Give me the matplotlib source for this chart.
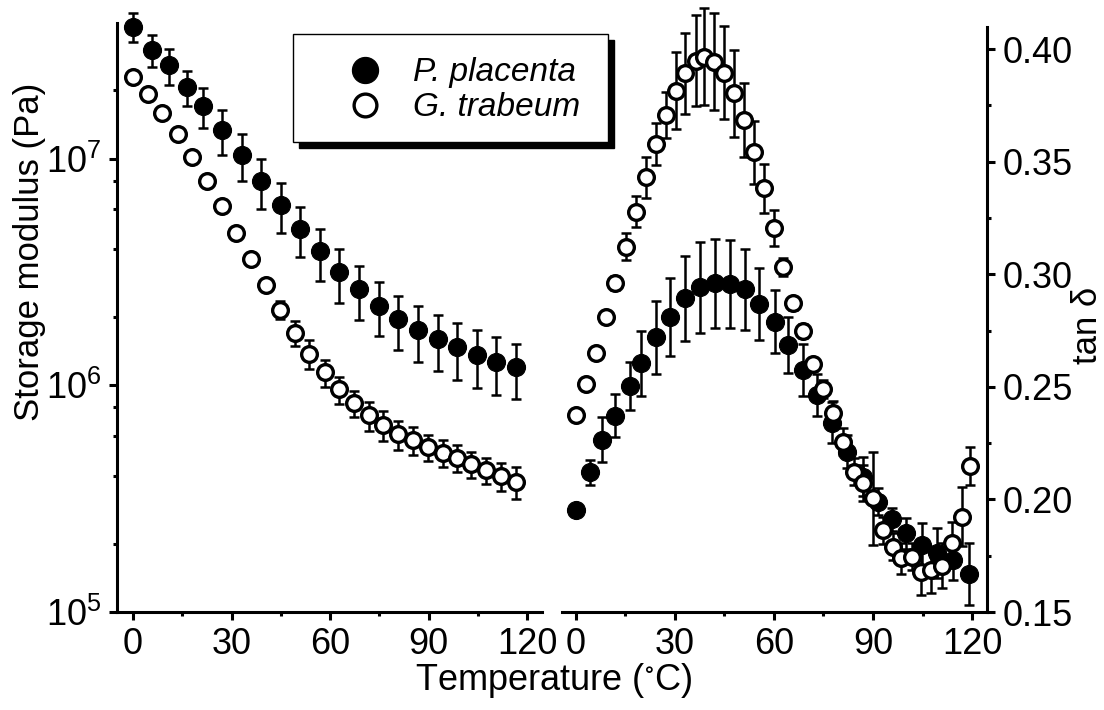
import matplotlib
matplotlib.use('Agg')
import matplotlib.pyplot as plt
from matplotlib.patches import Rectangle
from matplotlib.ticker import MultipleLocator, LogLocator, NullFormatter, FormatStrFormatter
import numpy as np

plt.rcParams['font.family'] = ['Liberation Sans', 'DejaVu Sans']
plt.rcParams['mathtext.fontset'] = 'custom'
plt.rcParams['mathtext.rm'] = 'Liberation Sans'
plt.rcParams['mathtext.it'] = 'Liberation Sans:italic'
plt.rcParams['mathtext.default'] = 'regular'

# storage modulus, P. placenta (filled)
T_pp_E = [0, 5.8, 11.0, 16.5, 21.2, 27.2, 33.1, 39.1, 45.0, 50.9, 57.0, 62.8, 68.8, 74.8,
          80.8, 86.7, 92.8, 98.8, 104.7, 110.7, 116.8]
E_pp = [3.83e7, 3.02e7, 2.58e7, 2.07e7, 1.71e7, 1.34e7, 1.04e7, 8.0e6, 6.27e6, 4.9e6, 3.9e6,
        3.16e6, 2.65e6, 2.25e6, 1.96e6, 1.75e6, 1.6e6, 1.47e6, 1.36e6, 1.27e6, 1.2e6]
E_pp_err = [5.5e6, 4.8e6, 4.6e6, 3.7e6, 3.5e6, 3.0e6, 2.4e6, 2.0e6, 1.55e6, 1.23e6, 1.0e6,
            0.85e6, 0.7e6, 0.6e6, 0.53e6, 0.48e6, 0.44e6, 0.41e6, 0.39e6, 0.36e6, 0.33e6]

# storage modulus, G. trabeum (open)
T_gt_E = [0, 4.5, 8.7, 13.6, 17.8, 22.6, 27.0, 31.4, 35.9, 40.4, 44.8, 49.3, 53.7, 58.5, 62.8,
          67.4, 71.8, 76.2, 80.8, 85.2, 89.7, 94.3, 98.6, 103.1, 107.5, 112.1, 116.7]
E_gt = [2.29e7, 1.93e7, 1.59e7, 1.28e7, 1.02e7, 7.94e6, 6.17e6, 4.71e6, 3.61e6, 2.77e6, 2.16e6,
        1.71e6, 1.38e6, 1.14e6, 9.6e5, 8.33e5, 7.38e5, 6.67e5, 6.08e5, 5.72e5, 5.35e5, 5.05e5,
        4.8e5, 4.49e5, 4.23e5, 3.98e5, 3.75e5]
E_gt_err = [0.5e6, 0.4e6, 0.35e6, 0.3e6, 0.25e6, 0.2e6, 0.18e6, 0.15e6, 0.13e6, 0.12e6, 0.2e6,
            0.22e6, 0.2e6, 0.16e6, 1.3e5, 1.1e5, 1.1e5, 1.0e5, 0.9e5, 0.8e5, 0.7e5, 0.7e5,
            0.65e5, 0.6e5, 0.56e5, 0.55e5, 0.6e5]

# tan delta, P. placenta (filled)
T_pp_tan = [0, 4.4, 8.0, 12.0, 16.4, 19.6, 24.2, 28.5, 33.0, 37.6, 42.1, 46.7, 51.2, 55.6, 60.2,
            64.3, 68.9, 73.0, 77.5, 82.0, 87.0, 91.6, 95.6, 100.0, 104.7, 109.3, 114.3, 119.2]
tan_pp = [0.1953, 0.212, 0.2264, 0.2372, 0.2505, 0.2604, 0.272, 0.2811, 0.2893, 0.2942, 0.2959,
          0.2956, 0.2933, 0.2868, 0.279, 0.2686, 0.2575, 0.2464, 0.2341, 0.2212, 0.2101, 0.199,
          0.1912, 0.1849, 0.1798, 0.1761, 0.1731, 0.1669]
tan_pp_err = [0.002, 0.0056, 0.010, 0.0096, 0.0107, 0.0144, 0.0163, 0.0173, 0.0188, 0.0203,
              0.0196, 0.0195, 0.018, 0.016, 0.014, 0.0123, 0.0114, 0.0093, 0.009, 0.0074,
              0.0086, 0.006, 0.005, 0.007, 0.0099, 0.011, 0.009, 0.0138]

# tan delta, G. trabeum (open)
T_gt_tan = [0, 3.0, 6.1, 9.1, 12.0, 15.2, 18.2, 21.2, 24.2, 27.2, 30.2, 33.0, 36.3, 38.8, 41.8,
            44.8, 47.9, 50.9, 54.0, 57.1, 60.1, 62.8, 65.8, 68.9, 71.9, 75.0, 78.0, 81.0, 84.1,
            86.9, 89.9, 93.0, 96.0, 98.5, 101.7, 104.5, 107.7, 111.0, 113.8, 117.0, 119.4]
tan_gt = [0.2375, 0.2512, 0.2649, 0.2809, 0.2962, 0.3122, 0.3278, 0.343, 0.3577, 0.3707, 0.3815,
          0.3892, 0.3948, 0.3966, 0.3944, 0.3895, 0.3803, 0.3685, 0.3541, 0.3381, 0.3204,
          0.3033, 0.2871, 0.2749, 0.26, 0.2489, 0.2385, 0.2256, 0.2123, 0.2071, 0.2005, 0.1864,
          0.179, 0.1738, 0.1746, 0.1679, 0.1686, 0.1706, 0.1805, 0.1923, 0.215]
tan_gt_err = [0.001, 0.001, 0.002, 0.002, 0.003, 0.0059, 0.007, 0.0092, 0.0094, 0.0104, 0.017,
              0.018, 0.0203, 0.0216, 0.0215, 0.0207, 0.0194, 0.0163, 0.014, 0.011, 0.008, 0.004,
              0.003, 0.003, 0.003, 0.004, 0.005, 0.006, 0.006, 0.008, 0.0207, 0.006, 0.006,
              0.007, 0.006, 0.0104, 0.01, 0.01, 0.0096, 0.013, 0.0085]

LABELS = ['P. placenta', 'G. trabeum']

FS = 26
LW = 2.2
err_kw = dict(fmt='none', ecolor='black', elinewidth=1.8, capsize=3.5, capthick=1.8, clip_on=False)
filled_kw = dict(marker='o', linestyle='none', markersize=13, markerfacecolor='black',
                 markeredgecolor='black', markeredgewidth=0.8, clip_on=False)
open_kw = dict(marker='o', linestyle='none', markersize=11.3, markerfacecolor='white',
               markeredgecolor='black', markeredgewidth=2.4, clip_on=False)

fig = plt.figure(figsize=(11.04, 7.10), dpi=100)
ax1 = fig.add_axes([0.106, 0.138, 0.385, 0.8296])
ax2 = fig.add_axes([0.509, 0.138, 0.385, 0.824])

# left: storage modulus
ax1.errorbar(T_pp_E, E_pp, yerr=E_pp_err, zorder=2, **err_kw)
h_pp, = ax1.plot(T_pp_E, E_pp, zorder=3, **filled_kw)
ax1.errorbar(T_gt_E, E_gt, yerr=E_gt_err, zorder=4, **err_kw)
h_gt, = ax1.plot(T_gt_E, E_gt, zorder=5, **open_kw)
ax1.set_yscale('log')
ax1.set_ylim(1e5, 3.97e7)
ax1.set_xlim(-4.9, 124.6)
ax1.yaxis.set_minor_locator(LogLocator(base=10, subs=[2, 4, 6, 8]))
ax1.yaxis.set_minor_formatter(NullFormatter())
ax1.spines['top'].set_visible(False)
ax1.spines['right'].set_visible(False)

# right: tan delta
ax2.errorbar(T_pp_tan, tan_pp, yerr=tan_pp_err, zorder=2, **err_kw)
ax2.plot(T_pp_tan, tan_pp, zorder=3, **filled_kw)
ax2.errorbar(T_gt_tan, tan_gt, yerr=tan_gt_err, zorder=4, **err_kw)
ax2.plot(T_gt_tan, tan_gt, zorder=5, **open_kw)
ax2.set_ylim(0.15, 0.4098)
ax2.set_xlim(-4.2, 124.5)
ax2.yaxis.tick_right()
ax2.yaxis.set_major_locator(MultipleLocator(0.05))
ax2.yaxis.set_minor_locator(MultipleLocator(0.025))
ax2.yaxis.set_major_formatter(FormatStrFormatter('%.2f'))
ax2.spines['top'].set_visible(False)
ax2.spines['left'].set_visible(False)

for ax in (ax1, ax2):
    ax.xaxis.set_major_locator(MultipleLocator(30))
    ax.xaxis.set_minor_locator(MultipleLocator(15))
    for s in ax.spines.values():
        s.set_linewidth(LW)
    ax.tick_params(which='major', direction='out', length=6, width=LW, labelsize=FS, pad=5)
    ax.tick_params(which='minor', direction='out', length=3, width=LW)
    ax.set_facecolor('none')

# axis titles
fig.text(0.027, 1 - 252 / 710, 'Storage modulus (Pa)', fontsize=25, rotation=90,
         ha='center', va='center')
fig.text(0.9855, 1 - 325 / 710, 'tan δ', fontsize=25, rotation=90, ha='center', va='center')
fig.text(0.501, 0.028, r'Temperature ($^{\circ}$C)', fontsize=FS, ha='center', va='baseline')

# legend box with black shadow
fig.patches.append(Rectangle((299 / 1104, 1 - 148 / 710), 315 / 1104, 108 / 710,
                             transform=fig.transFigure, facecolor='black', edgecolor='black',
                             zorder=10))
fig.patches.append(Rectangle((293 / 1104, 1 - 142 / 710), 315 / 1104, 108 / 710,
                             transform=fig.transFigure, facecolor='white', edgecolor='black',
                             linewidth=1.0, zorder=11))
leg = fig.legend([h_pp, h_gt], LABELS, loc='center left', bbox_to_anchor=(348 / 1104, 1 - 90.5 / 710),
                 frameon=False, fontsize=24, handlelength=1.0, handletextpad=0.94,
                 labelspacing=0.12, borderpad=0, borderaxespad=0, numpoints=1, markerscale=1.45)
leg.set_zorder(12)
for t in leg.get_texts():
    t.set_fontstyle('italic')

fig.savefig('out.png', dpi=100)
